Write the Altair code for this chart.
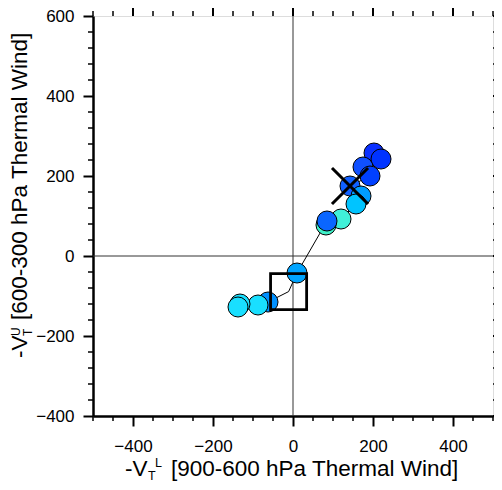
import altair as alt
import pandas as pd

# ---- data (drawing order: first = bottom) ----
pt_x = [202.5, 220, 175, 192.5, 142.5, 170, 157.5, 120, 82.5, 85, 10, -62.5, -87.5, -132.5, -137.5]
pt_y = [257.5, 242.5, 222.5, 200, 175, 150, 130, 92.5, 77.5, 87.5, -42.5, -115, -122.5, -120, -127.5]
pt_color = ["#0A30FF", "#0033FF", "#1050FF", "#0040FF", "#1060FF", "#009CFF", "#00C4FF",
            "#40F0D8", "#40F0C8", "#0A66FF", "#00A4FF", "#0090FF", "#19DFFF", "#19DFFF", "#19DFFF"]

square_x = [-11]
square_y = [-89]
cross_x = [142.5]
cross_y = [175]

x_major = [-400, -200, 0, 200, 400]
y_major = [-400, -200, 0, 200, 400, 600]
x_minor = [-500, -450, -350, -300, -250, -150, -100, -50, 50, 100, 150, 250, 300, 350, 450, 500]
y_minor = [-360, -320, -280, -240, -160, -120, -80, -40, 40, 80, 120, 160,
           240, 280, 320, 360, 440, 480, 520, 560]

FONT = "Liberation Sans"

pts = pd.DataFrame({"x": pt_x, "y": pt_y, "c": pt_color, "o": list(range(len(pt_x)))})
# track line passes through the square point after the 11th circle
line_rows = [(x, y) for x, y in zip(pt_x[:11], pt_y[:11])] + \
            [(square_x[0], square_y[0])] + \
            [(x, y) for x, y in zip(pt_x[11:], pt_y[11:])]
line_df = pd.DataFrame({"x": [r[0] for r in line_rows], "y": [r[1] for r in line_rows],
                        "o": list(range(len(line_rows)))})

xs = alt.Scale(domain=[-500, 500], nice=False, zero=False)
ys = alt.Scale(domain=[-400, 600], nice=False, zero=False)

common_axis = dict(tickSize=10, tickWidth=2, tickColor="black", domainColor="black",
                   domainWidth=2.5, labelFontSize=17, labelFont=FONT, labelColor="black",
                   grid=False, title=None, labelFlush=False, labelOverlap=False)
x_axis = alt.Axis(values=x_major, labelPadding=12, **common_axis)
y_axis = alt.Axis(values=y_major, labelPadding=9, **common_axis)

def X(field="x"):
    return alt.X(f"{field}:Q", scale=xs, axis=x_axis)

def Y(field="y"):
    return alt.Y(f"{field}:Q", scale=ys, axis=y_axis)

zero_df = pd.DataFrame({"v": [0]})
vline = alt.Chart(zero_df).mark_rule(color="#333333", strokeWidth=1).encode(x=X("v"))
hline = alt.Chart(zero_df).mark_rule(color="#333333", strokeWidth=1).encode(y=Y("v"))

track = alt.Chart(line_df).mark_line(color="black", strokeWidth=1).encode(
    x=X(), y=Y(), order="o:Q")

circles = alt.Chart(pts).mark_circle(size=400, opacity=1, stroke="black", strokeWidth=1).encode(
    x=X(), y=Y(), fill=alt.Fill("c:N", scale=None), order="o:Q")

square = alt.Chart(pd.DataFrame({"x": square_x, "y": square_y})).mark_point(
    shape="square", size=1300, filled=False, stroke="black", strokeWidth=2.8, opacity=1).encode(
    x=X(), y=Y())

cross = alt.Chart(pd.DataFrame({"x": cross_x, "y": cross_y})).mark_point(
    shape="M-1,-1L1,1M1,-1L-1,1", size=1300, filled=False, stroke="black",
    strokeWidth=3, opacity=1).encode(x=X(), y=Y())

# mirrored / minor ticks
xmaj_df = pd.DataFrame({"v": x_major})
ymaj_df = pd.DataFrame({"v": y_major})
xmin_df = pd.DataFrame({"v": x_minor})
ymin_df = pd.DataFrame({"v": y_minor})

top_major = alt.Chart(xmaj_df).mark_rule(color="black", strokeWidth=2).encode(
    x=X("v"), y=alt.value(0), y2=alt.value(-10))
right_major = alt.Chart(ymaj_df).mark_rule(color="black", strokeWidth=2).encode(
    y=Y("v"), x=alt.value(400), x2=alt.value(410))
top_minor = alt.Chart(xmin_df).mark_rule(color="black", strokeWidth=1.5).encode(
    x=X("v"), y=alt.value(0), y2=alt.value(-5))
bottom_minor = alt.Chart(xmin_df).mark_rule(color="black", strokeWidth=1.5).encode(
    x=X("v"), y=alt.value(400), y2=alt.value(405))
left_minor = alt.Chart(ymin_df).mark_rule(color="black", strokeWidth=1.5).encode(
    y=Y("v"), x=alt.value(0), x2=alt.value(-5))
right_minor = alt.Chart(ymin_df).mark_rule(color="black", strokeWidth=1.5).encode(
    y=Y("v"), x=alt.value(400), x2=alt.value(405))

one = pd.DataFrame({"a": [0]})

def txt(s, x, y, size, angle=0):
    return alt.Chart(one).mark_text(text=s, font=FONT, fontSize=size, color="black",
                                    align="left", baseline="alphabetic", angle=angle).encode(
        x=alt.value(x), y=alt.value(y))

# x title: -V_T^L [900-600 hPa Thermal Wind]
xt = [txt("-V", 32, 460, 22.5), txt("T", 55, 464, 12.5), txt("L", 62, 451, 12.5),
      txt("[900-600 hPa Thermal Wind]", 78, 460, 22.5)]
# y title: -V_T^U [600-300 hPa Thermal Wind] (rotated)
yt = [txt("-V", -66, 342, 22.5, 270), txt("T", -61, 320, 12, 270), txt("U", -73, 320, 12, 270),
      txt("[600-300 hPa Thermal Wind]", -66, 304, 22.5, 270)]

chart = alt.layer(
    vline, hline, track, circles, square, cross,
    top_major, right_major, top_minor, bottom_minor, left_minor, right_minor,
    *xt, *yt
).properties(
    width=400, height=400,
    autosize=alt.AutoSizeParams(type="none"),
    padding={"left": 85, "top": 8, "right": 1, "bottom": 66},
).configure_view(stroke="black", strokeWidth=2.5).configure(background="white")

chart.save("out.html", embed_options={"renderer": "svg", "actions": False})
